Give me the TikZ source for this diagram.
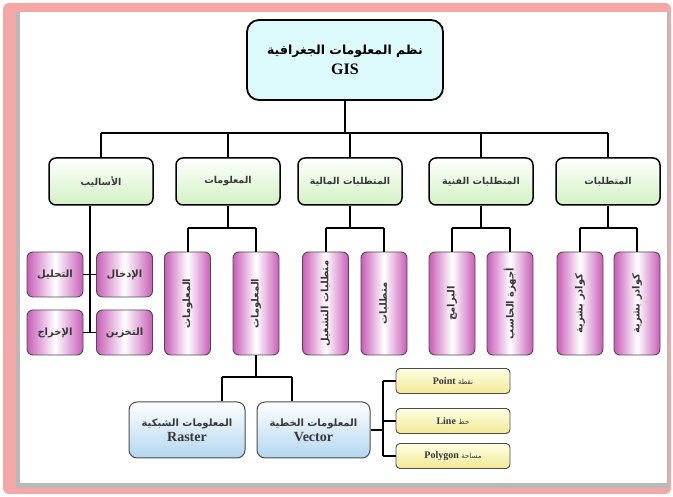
\documentclass[tikz,border=0pt]{standalone}
\usepackage{fontspec}
\setmainfont{Liberation Serif}
\newfontfamily\arabicfont[Script=Arabic]{DejaVu Sans}
\TeXXeTstate=1
\newcommand{\artxt}[1]{{\arabicfont\beginR #1\endR}}
\newcommand{\arbtxt}[1]{{\arabicfont\bfseries\beginR #1\endR}}
\usetikzlibrary{calc}
\definecolor{frameP}{HTML}{F4A7A7}
\definecolor{cyanF}{HTML}{DDFBFD}
\definecolor{greenF}{HTML}{D2F1C2}
\definecolor{pinkF}{HTML}{C95DB8}
\definecolor{blueF}{HTML}{B3D6F1}
\definecolor{yelF}{HTML}{F2EA94}
\definecolor{yelT}{HTML}{FFFFE6}
\definecolor{txtG}{HTML}{383838}
\tikzset{
  conn/.style={line width=2pt, black},
  thinconn/.style={line width=1.5pt, black},
  topbox/.style={draw=black, line width=1.8pt, rounded corners=12pt, fill=cyanF,
    minimum width=196pt, minimum height=80pt, align=center, inner sep=2pt},
  lvbox/.style={draw=black, line width=1.5pt, rounded corners=7pt, top color=white,
    bottom color=greenF, minimum width=104pt, minimum height=47pt, inner sep=2pt,
    font=\fontsize{9.5}{11}\selectfont, text=txtG},
  pinkbox/.style={draw=gray!60!black, line width=0.9pt, rounded corners=6pt,
    left color=pinkF, right color=pinkF, middle color=white, text=txtG, inner sep=1pt,
    font=\fontsize{10}{12}\selectfont},
  tallbox/.style={pinkbox, minimum width=46pt, minimum height=103pt},
  methbox/.style={pinkbox, minimum width=56pt, minimum height=45pt},
  bluebox/.style={draw=gray!60!black, line width=1pt, rounded corners=8pt, top color=white,
    bottom color=blueF, minimum width=114pt, minimum height=56pt, align=center, inner sep=1pt,
    text=txtG},
  yelbox/.style={draw=gray!60!black, line width=0.9pt, rounded corners=4pt, top color=yelT,
    bottom color=yelF, minimum width=114pt, minimum height=25pt, inner sep=1pt, text=txtG}
}
\begin{document}
\begin{tikzpicture}[x=1pt,y=1pt]
\useasboundingbox (0,0) rectangle (673,497);
% frame
\fill[frameP, rounded corners=6pt] (3,3) rectangle (671,494);
\fill[gray!55] (16,9) rectangle (669,485);
\fill[white] (20,14) rectangle (667,485);
% top
\node[topbox] (top) at (345,437) {\fontsize{12.5}{15}\selectfont\arbtxt{نظم المعلومات الجغرافية}\\[5pt]{\bfseries\fontsize{16}{19}\selectfont GIS}};
% level 2
\node[lvbox] (l2a) at (101,315.5) {\arbtxt{الأساليب}};
\node[lvbox] (l2b) at (228,315.5) {\arbtxt{المعلومات}};
\node[lvbox] (l2c) at (350,315.5) {\arbtxt{المتطلبات المالية}};
\node[lvbox] (l2d) at (481,315.5) {\arbtxt{المتطلبات الفنية}};
\node[lvbox] (l2e) at (608,315.5) {\arbtxt{المتطلبات}};
% methods
\node[methbox] (m1) at (55,222.5) {\arbtxt{التحليل}};
\node[methbox] (m2) at (124.5,222.5) {\arbtxt{الإدخال}};
\node[methbox] (m3) at (55,164.5) {\arbtxt{الإخراج}};
\node[methbox] (m4) at (124.5,164.5) {\arbtxt{التخزين}};
% tall boxes
\node[tallbox] (t1) at (187.5,193.5) {\rotatebox{90}{\arbtxt{المعلومات}}};
\node[tallbox] (t2) at (256,193.5) {\rotatebox{90}{\arbtxt{المعلومات}}};
\node[tallbox] (t3) at (325.5,193.5) {\rotatebox{90}{\arbtxt{متطلبات التشغيل}}};
\node[tallbox] (t4) at (384,193.5) {\rotatebox{90}{\arbtxt{متطلبات}}};
\node[tallbox] (t5) at (452,193.5) {\rotatebox{90}{\arbtxt{البرامج}}};
\node[tallbox] (t6) at (510,193.5) {\rotatebox{90}{\arbtxt{أجهزة الحاسب}}};
\node[tallbox] (t7) at (580,193.5) {\rotatebox{90}{\arbtxt{كوادر بشرية}}};
\node[tallbox] (t8) at (637,193.5) {\rotatebox{90}{\arbtxt{كوادر بشرية}}};
% raster / vector
\node[bluebox, minimum width=116pt] (raster) at (187,67) {\fontsize{10}{12}\selectfont\arbtxt{المعلومات الشبكية}\\[3pt]{\bfseries\fontsize{14}{16}\selectfont Raster}};
\node[bluebox, minimum width=113pt] (vector) at (313.5,67) {\fontsize{10}{12}\selectfont\arbtxt{المعلومات الخطية}\\[3pt]{\bfseries\fontsize{14}{16}\selectfont Vector}};
% yellow
\node[yelbox] (y1) at (453,116) {{\bfseries\fontsize{10}{12}\selectfont Point} {\fontsize{7}{9}\selectfont\artxt{نقطة}}};
\node[yelbox] (y2) at (453,76) {{\bfseries\fontsize{10}{12}\selectfont Line} {\fontsize{7}{9}\selectfont\artxt{خط}}};
\node[yelbox] (y3) at (453,41) {{\bfseries\fontsize{10}{12}\selectfont Polygon} {\fontsize{7}{9}\selectfont\artxt{مساحة}}};
% connectors: top bus
\coordinate (busY) at (0,364);
\coordinate (subY) at (0,269);
\coordinate (lowY) at (0,120);
\draw[conn] (top.south) -- (top.south |- busY);
\draw[conn] (l2a.north |- busY) -- (l2e.north |- busY);
\foreach \n in {l2a,l2b,l2c,l2d,l2e} \draw[conn] (\n.north |- busY) -- (\n.north);
% methods
\coordinate (mx) at ($(m1.east)!0.5!(m2.west)$);
\draw[thinconn] (mx |- l2a.south) -- (mx |- m4.west);
\draw[thinconn] (m1.east) -- (m2.west);
\draw[thinconn] (m3.east) -- (m4.west);
% pairs
\foreach \p/\a/\b in {l2b/t1/t2, l2c/t3/t4, l2d/t5/t6, l2e/t7/t8} {
  \draw[conn] (\p.south) -- (\p.south |- subY);
  \draw[conn] (\a.north |- subY) -- (\b.north |- subY);
  \draw[conn] (\a.north |- subY) -- (\a.north);
  \draw[conn] (\b.north |- subY) -- (\b.north);
}
% raster/vector
\coordinate (rA) at ($(raster.north west)!0.8!(raster.north east)$);
\coordinate (vA) at ($(vector.north west)!0.31!(vector.north east)$);
\draw[conn] (t2.south) -- (t2.south |- lowY);
\draw[conn] (rA |- lowY) -- (vA |- lowY);
\draw[conn] (rA |- lowY) -- (rA);
\draw[conn] (vA |- lowY) -- (vA);
% vector to yellow
\coordinate (yx) at (383,0);
\draw[conn] (vector.east) -- (vector.east -| yx);
\draw[conn] (yx |- y1.west) -- (yx |- y3.west);
\foreach \n in {y1,y2,y3} \draw[conn] (yx |- \n.west) -- (\n.west);
\end{tikzpicture}
\end{document}
